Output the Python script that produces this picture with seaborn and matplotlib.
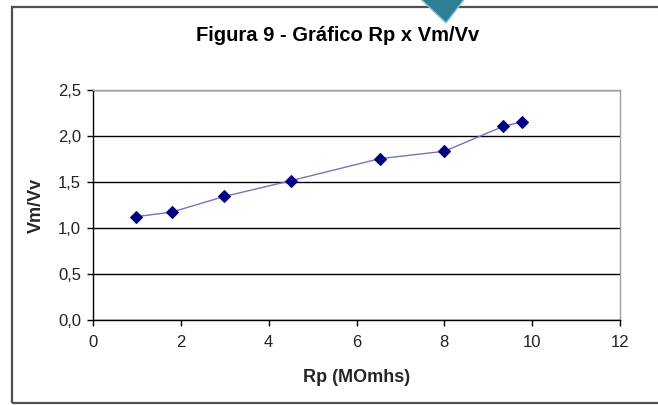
import matplotlib
matplotlib.use("Agg")
import matplotlib.pyplot as plt
import matplotlib.patches as mpatches
from matplotlib.ticker import FuncFormatter, MultipleLocator
import seaborn as sns
import pandas as pd

# data
rp_values = [0.97, 1.79, 2.99, 4.50, 6.53, 8.00, 9.34, 9.77]
vm_vv_values = [1.12, 1.17, 1.34, 1.51, 1.75, 1.83, 2.10, 2.15]
title_text = "Figura 9 - Gráfico Rp x Vm/Vv"
x_label = "Rp (MOmhs)"
y_label = "Vm/Vv"

sns.set_theme(style="white")
plt.rcParams['font.family'] = ['Liberation Sans', 'DejaVu Sans']

df = pd.DataFrame({"Rp": rp_values, "VmVv": vm_vv_values})

W, H = 658, 405
fig = plt.figure(figsize=(W / 100, H / 100), dpi=100)
fig.patch.set_facecolor("white")

# outer chart border (right side falls outside the image)
fig.add_artist(mpatches.Rectangle((12 / W, 1 - 403 / H), 660 / W, 396 / H,
                                  transform=fig.transFigure, fill=False,
                                  edgecolor="#505050", linewidth=1.6))
# decorative teal marker at top
fig.add_artist(mpatches.Polygon([(413 / W, 1.02), (446 / W, 1 - 23 / H), (470 / W, 1.02)],
                                closed=True, transform=fig.transFigure,
                                facecolor="#2e7f93", edgecolor="#8fc3cf", linewidth=1))

left, right, top, bottom = 93, 620, 89.5, 320
ax = fig.add_axes([left / W, 1 - bottom / H, (right - left) / W, (bottom - top) / H])
sns.lineplot(data=df, x="Rp", y="VmVv", ax=ax, color="#7474b8", linewidth=1.0,
             marker="D", markersize=6.5, markerfacecolor="#000080",
             markeredgecolor="#000080", sort=False)

ax.set_xlim(0, 12)
ax.set_ylim(0, 2.5)
ax.xaxis.set_major_locator(MultipleLocator(2))
ax.yaxis.set_major_locator(MultipleLocator(0.5))
ax.yaxis.set_major_formatter(FuncFormatter(lambda v, p: f"{v:.1f}".replace(".", ",")))
ax.xaxis.set_major_formatter(FuncFormatter(lambda v, p: f"{int(round(v))}"))

ax.grid(axis="y", color="black", linewidth=1.0)
ax.grid(axis="x", visible=False)
ax.set_axisbelow(True)
for side in ["left", "bottom"]:
    ax.spines[side].set_color("black")
    ax.spines[side].set_linewidth(1.0)
for side in ["top", "right"]:
    ax.spines[side].set_color("#a0a0a0")
    ax.spines[side].set_linewidth(1.0)

ax.tick_params(axis="both", which="major", direction="out", length=4.5, width=1,
               color="black", labelsize=12, labelcolor="#222222",
               left=True, bottom=True)
ax.tick_params(axis="x", pad=6)
ax.tick_params(axis="y", pad=4)

ax.set_xlabel(x_label, fontsize=13, fontweight="bold", va="center", ha="center")
ax.set_ylabel(y_label, fontsize=13, fontweight="bold", va="center", ha="center")
ax.xaxis.set_label_coords(357 / W, 1 - 378 / H, transform=fig.transFigure)
ax.yaxis.set_label_coords(36.5 / W, 1 - 205 / H, transform=fig.transFigure)

fig.text(338 / W, 1 - 41 / H, title_text, ha="center", va="baseline",
         fontsize=14.5, fontweight="bold", color="black")

fig.savefig("out.png", dpi=100, facecolor="white")
